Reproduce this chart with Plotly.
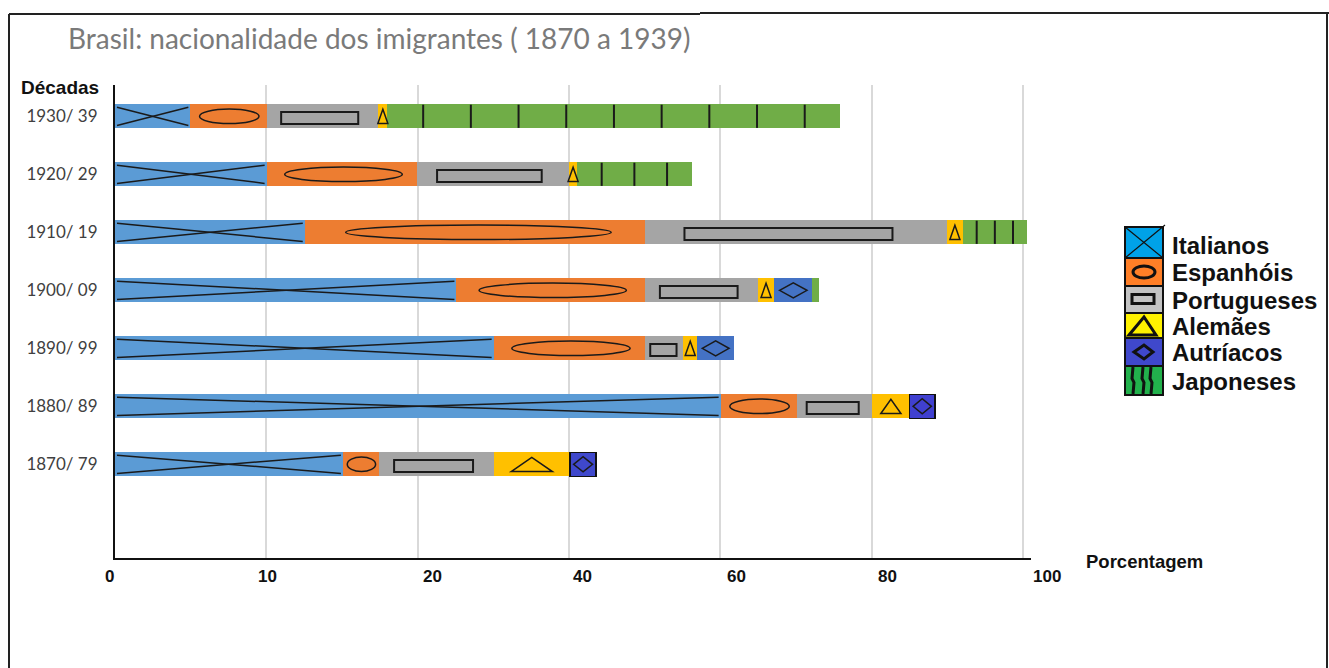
import plotly.graph_objects as go

# ---- data: share of immigrants (%) by nationality, per decade (bottom -> top) ----
decadas = ["1870/ 79", "1880/ 89", "1890/ 99", "1900/ 09", "1910/ 19", "1920/ 29", "1930/ 39"]
italianos = [25.1, 66.7, 41.7, 37.6, 20.9, 16.7, 8.3]
espanhois = [4.0, 8.4, 16.7, 20.8, 37.5, 16.6, 8.4]
portugueses = [12.6, 8.3, 4.2, 12.4, 33.2, 16.7, 12.3]
alemaes = [8.4, 4.1, 1.5, 1.8, 1.8, 0.9, 1.0]
austriacos = [2.9, 2.8, 4.1, 4.2, 0.0, 0.0, 0.0]
japoneses = [0.0, 0.0, 0.0, 0.7, 7.0, 12.6, 49.9]

nacionalidades = ["Italianos", "Espanhóis", "Portugueses", "Alemães", "Autríacos", "Japoneses"]
x_tick_labels = ["0", "10", "20", "40", "60", "80", "100"]

# ---- styling ----
BAR_FILL = ["#5B9BD5", "#ED7D31", "#A5A5A5", "#FFC000", "#4472C4", "#70AD47"]
AUSTRIAN_FILL = ["#3F48CC", "#4040D0", "#4472C4", "#4472C4", "#4472C4", "#4472C4", "#4472C4"]
AUSTRIAN_EDGE = [1.5, 1.5, 0, 0, 0, 0, 0]
LEGEND_FILL = ["#00A2E8", "#FF7F27", "#C3C3C3", "#FFF200", "#3F48CC", "#22B14C"]
JAPANESE_STROKES = [0, 0, 0, 0, 3, 3, 9]   # hatch strokes drawn in each green segment
TICK_NUDGE = [-6, 1, 15, 13, 16, 16, 24]    # horizontal offset of the x tick labels (px)

W, H = 1329, 668
PL, PR, PT, PB = 115, 1031, 85, 558          # plot area in pixels
PX_PER_X = 9.08                              # pixels per percentage point
ROW_PX = 58.0                                # pixels between decades
ROW0_PY = 464.3                              # pixel row of the first decade
XMAX = (PR - PL) / PX_PER_X
YMIN = -(PB - ROW0_PY) / ROW_PX
YMAX = (ROW0_PY - PT) / ROW_PX
BW = 24 / ROW_PX                             # bar thickness in y units
UX = 1 / PX_PER_X
UY = 1 / ROW_PX


def px(xp):
    return (xp - PL) / (PR - PL)


def py(yp):
    return (PB - yp) / (PB - PT)


series = [italianos, espanhois, portugueses, alemaes, austriacos, japoneses]
rows = list(range(len(decadas)))

fig = go.Figure()
for i, (name, vals) in enumerate(zip(nacionalidades, series)):
    color = AUSTRIAN_FILL if name == "Autríacos" else BAR_FILL[i]
    lw = AUSTRIAN_EDGE if name == "Autríacos" else 0
    fig.add_trace(go.Bar(
        y=rows, x=vals, orientation="h", name=name, width=BW,
        marker=dict(color=color, line=dict(color="#111111", width=lw)),
        showlegend=False, hoverinfo="x+name",
    ))

# ---- hand-drawn style symbols inside each bar segment ----
shapes = []
LINE = dict(color="#1a1a1a", width=1.5)


def seg_bounds(r, k):
    start = sum(s[r] for s in series[:k])
    return start, start + series[k][r]


for r in rows:
    c = r
    # Italianos: a cross from corner to corner
    a, b = seg_bounds(r, 0)
    if b - a > 0:
        h = 0.38 * BW
        shapes.append(dict(type="line", x0=a + 2 * UX, x1=b - 2 * UX, y0=c + h, y1=c - h, line=LINE))
        shapes.append(dict(type="line", x0=a + 2 * UX, x1=b - 2 * UX, y0=c - h, y1=c + h, line=LINE))
    # Espanhóis: ellipse
    a, b = seg_bounds(r, 1)
    w = b - a
    if w > 0:
        shapes.append(dict(type="circle", x0=a + 0.12 * w, x1=b - 0.10 * w,
                           y0=c - 0.125, y1=c + 0.125, line=LINE))
    # Portugueses: rectangle
    a, b = seg_bounds(r, 2)
    w = b - a
    if w > 0:
        shapes.append(dict(type="rect", x0=a + 0.13 * w, x1=b - 0.18 * w,
                           y0=c - 0.131, y1=c + 0.074, line=dict(color="#1a1a1a", width=2)))
    # Alemães: triangle
    a, b = seg_bounds(r, 3)
    w = b - a
    if w > 0:
        m = (a + b) / 2
        hw = max(0.27 * w, 5 * UX)
        shapes.append(dict(type="path",
                           path=f"M {m - hw},{c - 0.125} L {m},{c + 0.12} L {m + hw},{c - 0.125} Z",
                           line=LINE))
    # Autríacos: diamond
    a, b = seg_bounds(r, 4)
    w = b - a
    if w > 0:
        m = (a + b) / 2
        hw = 0.36 * w
        shapes.append(dict(type="path",
                           path=f"M {m - hw},{c} L {m},{c + 0.13} L {m + hw},{c} L {m},{c - 0.13} Z",
                           line=LINE))
    # Japoneses: vertical strokes
    a, b = seg_bounds(r, 5)
    w = b - a
    n = JAPANESE_STROKES[r]
    for k in range(n):
        xk = a + w * (k + 0.75) / (n + 0.5)
        shapes.append(dict(type="line", x0=xk, x1=xk, y0=c - 0.2, y1=c + 0.2,
                           line=dict(color="#1a1a1a", width=2)))

for s in shapes:
    s.setdefault("xref", "x")
    s.setdefault("yref", "y")

# ---- outer frame ----
FRAME = dict(color="#222222", width=2)
frame = [
    (9, 14, 9, H + 2), (9, 14, 700, 14), (700, 13, W, 13), (1327, 13, 1327, H + 2),
]
for x0, y0, x1, y1 in frame:
    shapes.append(dict(type="line", xref="paper", yref="paper",
                       x0=px(x0), y0=py(y0), x1=px(x1), y1=py(y1), line=FRAME))

# ---- custom legend ----
LEG_X0, LEG_X1 = 1125, 1163
LEG_EDGES = [227, 258, 286, 313, 338, 366, 395]
annotations = []
BOLD = dict(color="#111111", width=3)
for i, name in enumerate(nacionalidades):
    t, bt = LEG_EDGES[i], LEG_EDGES[i + 1]
    shapes.append(dict(type="rect", xref="paper", yref="paper",
                       x0=px(LEG_X0), x1=px(LEG_X1), y0=py(bt), y1=py(t),
                       fillcolor=LEGEND_FILL[i], line=dict(color="#111111", width=2)))
    cx, cy = (LEG_X0 + LEG_X1) / 2, (t + bt) / 2
    if i == 0:
        for (xa, ya, xb, yb) in [(LEG_X0, t, LEG_X1, bt), (LEG_X0, bt, LEG_X1 + 2, t - 2)]:
            shapes.append(dict(type="line", xref="paper", yref="paper",
                               x0=px(xa), y0=py(ya), x1=px(xb), y1=py(yb),
                               line=dict(color="#111111", width=1.2)))
    elif i == 1:
        shapes.append(dict(type="circle", xref="paper", yref="paper",
                           x0=px(cx - 11), x1=px(cx + 11), y0=py(cy + 6), y1=py(cy - 6), line=BOLD))
    elif i == 2:
        shapes.append(dict(type="rect", xref="paper", yref="paper",
                           x0=px(cx - 12), x1=px(cx + 10), y0=py(cy + 4), y1=py(cy - 5), line=BOLD))
    elif i == 3:
        shapes.append(dict(type="path", xref="paper", yref="paper",
                           path=(f"M {px(cx - 15)},{py(bt - 3)} L {px(cx)},{py(t + 4)} "
                                 f"L {px(cx + 12)},{py(bt - 3)} Z"), line=BOLD))
    elif i == 4:
        shapes.append(dict(type="path", xref="paper", yref="paper",
                           path=(f"M {px(cx - 10)},{py(cy)} L {px(cx)},{py(cy - 7)} "
                                 f"L {px(cx + 9)},{py(cy)} L {px(cx)},{py(cy + 7)} Z"), line=BOLD))
    else:
        for dx in (-11, -1, 7):
            shapes.append(dict(type="path", xref="paper", yref="paper",
                               path=(f"M {px(cx + dx)},{py(t + 1)} L {px(cx + dx - 1)},{py(cy - 2)} "
                                     f"L {px(cx + dx + 1)},{py(cy + 2)} L {px(cx + dx)},{py(bt - 1)}"),
                               line=BOLD))
    annotations.append(dict(text=name, xref="paper", yref="paper", x=px(1170),
                            y=py(cy + (3 if i == 0 else 0.5)),
                            xanchor="left", yanchor="middle", showarrow=False,
                            font=dict(family="Liberation Sans, Arial", size=24, color="#111111",
                                      weight="bold")))

# ---- x tick labels (evenly spaced gridlines) ----
grid_vals = [i * 100 / 6 for i in range(len(x_tick_labels))]
for v, lab, dx in zip(grid_vals, x_tick_labels, TICK_NUDGE):
    annotations.append(dict(text=lab, xref="x", yref="paper", x=v, y=py(576), xshift=dx,
                            xanchor="center", yanchor="middle", showarrow=False,
                            font=dict(family="Liberation Sans, Arial", size=17, color="#111111",
                                      weight="bold")))

annotations += [
    dict(text="Porcentagem", xref="paper", yref="paper", x=px(1084), y=py(561),
         xanchor="left", yanchor="middle", showarrow=False,
         font=dict(family="Liberation Sans, Arial", size=18.5, color="#111111", weight="bold")),
    dict(text="Décadas", xref="paper", yref="paper", x=px(19), y=py(88),
         xanchor="left", yanchor="middle", showarrow=False,
         font=dict(family="Liberation Sans, Arial", size=19, color="#111111", weight="bold")),
    dict(text="Brasil: nacionalidade dos imigrantes ( 1870 a 1939)", xref="paper", yref="paper",
         x=px(66), y=py(38), xanchor="left", yanchor="middle", showarrow=False,
         font=dict(family="Lato", size=28, color="#7A7A7A")),
]

fig.update_layout(
    width=W, height=H, barmode="stack",
    margin=dict(l=PL, r=W - PR, t=PT, b=H - PB, pad=0),
    paper_bgcolor="white", plot_bgcolor="white",
    shapes=shapes, annotations=annotations, showlegend=False,
    xaxis=dict(range=[0, XMAX], tickvals=grid_vals, showticklabels=False, ticks="",
               showgrid=True, gridcolor="#D9D9D9", gridwidth=1.5, zeroline=False,
               showline=True, linecolor="#111111", linewidth=2, fixedrange=True),
    yaxis=dict(range=[YMIN, YMAX], tickvals=rows, ticktext=decadas, ticks="",
               showgrid=False, zeroline=False, showline=True, linecolor="#111111", linewidth=2,
               ticklabelstandoff=12, tickfont=dict(family="Lato", size=17, color="#404040"),
               fixedrange=True),
)

fig.write_html("out.html")
